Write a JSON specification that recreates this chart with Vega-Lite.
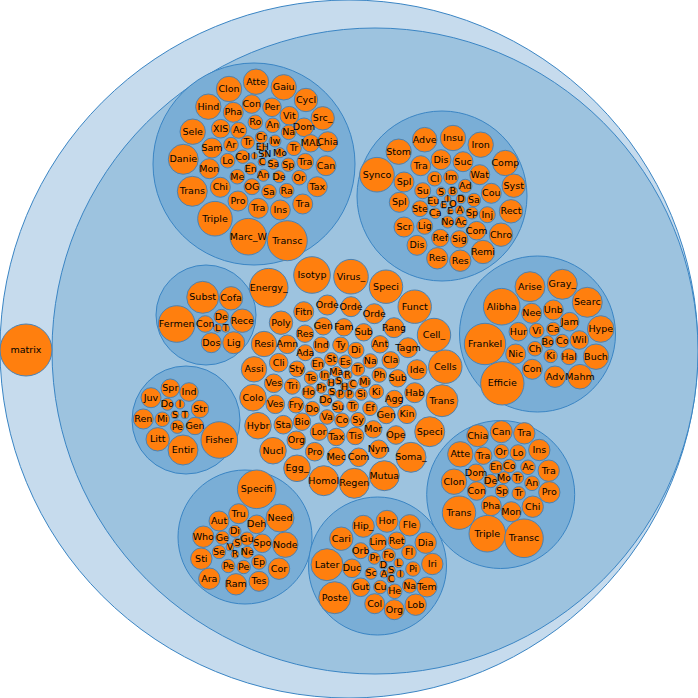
{
  "$schema": "https://vega.github.io/schema/vega-lite/v6.json",
  "width": 698,
  "height": 698,
  "autosize": {"type": "none"},
  "padding": 0,
  "config": {"view": {"stroke": null}},
  "data": {
    "values": [
      {"n": "", "x": 349, "y": 349, "r": 349, "level": "root"},
      {"n": "", "x": 375, "y": 351, "r": 323, "level": "group"},
      {"n": "matrix", "x": 26, "y": 350, "r": 26, "level": "leaf"},
      {"n": "", "x": 254, "y": 164, "r": 101, "level": "cluster"},
      {"n": "", "x": 442, "y": 196, "r": 85, "level": "cluster"},
      {"n": "", "x": 206, "y": 315, "r": 50, "level": "cluster"},
      {"n": "", "x": 186, "y": 420, "r": 54, "level": "cluster"},
      {"n": "", "x": 537.5, "y": 334, "r": 78, "level": "cluster"},
      {"n": "", "x": 500.7, "y": 494.5, "r": 74, "level": "cluster"},
      {"n": "", "x": 245, "y": 537, "r": 67, "level": "cluster"},
      {"n": "", "x": 377.5, "y": 566, "r": 69, "level": "cluster"},

      {"n": "Clon", "x": 229, "y": 89, "r": 12.7, "level": "leaf"},
      {"n": "Atte", "x": 256, "y": 81.7, "r": 12.7, "level": "leaf"},
      {"n": "Gaiu", "x": 283.7, "y": 87.3, "r": 12.7, "level": "leaf"},
      {"n": "Cycl", "x": 306, "y": 100, "r": 11.7, "level": "leaf"},
      {"n": "Src_", "x": 322.7, "y": 118.3, "r": 11.7, "level": "leaf"},
      {"n": "Hind", "x": 208.3, "y": 106.7, "r": 12.7, "level": "leaf"},
      {"n": "Pha", "x": 233.3, "y": 112.3, "r": 10, "level": "leaf"},
      {"n": "Con", "x": 251.7, "y": 104, "r": 9.3, "level": "leaf"},
      {"n": "Per", "x": 272, "y": 107.3, "r": 9.3, "level": "leaf"},
      {"n": "Vit", "x": 289.3, "y": 115.7, "r": 9.3, "level": "leaf"},
      {"n": "Dom", "x": 304, "y": 127.3, "r": 9.3, "level": "leaf"},
      {"n": "Chia", "x": 327.7, "y": 141.7, "r": 10, "level": "leaf"},
      {"n": "MAL", "x": 310.7, "y": 143.3, "r": 8.7, "level": "leaf"},
      {"n": "Sele", "x": 192.7, "y": 131.7, "r": 12.7, "level": "leaf"},
      {"n": "XIS", "x": 220.7, "y": 128.7, "r": 9.3, "level": "leaf"},
      {"n": "Ac", "x": 238.7, "y": 130.3, "r": 8, "level": "leaf"},
      {"n": "Ro", "x": 255.3, "y": 122.3, "r": 7.3, "level": "leaf"},
      {"n": "An", "x": 272.7, "y": 125.3, "r": 7.3, "level": "leaf"},
      {"n": "Na", "x": 288.7, "y": 132.3, "r": 7.3, "level": "leaf"},
      {"n": "Sam", "x": 212, "y": 148, "r": 10, "level": "leaf"},
      {"n": "Ar", "x": 231, "y": 144.7, "r": 7.3, "level": "leaf"},
      {"n": "Tr", "x": 247.7, "y": 142.3, "r": 6.7, "level": "leaf"},
      {"n": "Cr", "x": 261.3, "y": 137.3, "r": 6, "level": "leaf"},
      {"n": "Iw", "x": 275, "y": 141, "r": 6, "level": "leaf"},
      {"n": "Tr", "x": 294, "y": 148.3, "r": 7.3, "level": "leaf"},
      {"n": "Danie", "x": 183.3, "y": 159.3, "r": 15, "level": "leaf"},
      {"n": "Lo", "x": 227.7, "y": 160.7, "r": 7.3, "level": "leaf"},
      {"n": "Col", "x": 242.7, "y": 156.7, "r": 6.7, "level": "leaf"},
      {"n": "EH", "x": 262.3, "y": 147.3, "r": 4, "level": "leaf"},
      {"n": "I", "x": 254.3, "y": 156, "r": 3.3, "level": "leaf"},
      {"n": "SN", "x": 264.7, "y": 154.3, "r": 3.3, "level": "leaf"},
      {"n": "Mo", "x": 280, "y": 152.7, "r": 5, "level": "leaf"},
      {"n": "C", "x": 262, "y": 162, "r": 4, "level": "leaf"},
      {"n": "Sa", "x": 273.3, "y": 164, "r": 5.3, "level": "leaf"},
      {"n": "Sp", "x": 288.3, "y": 164.7, "r": 6.7, "level": "leaf"},
      {"n": "Tra", "x": 305.3, "y": 161.7, "r": 8.3, "level": "leaf"},
      {"n": "Can", "x": 326, "y": 165.7, "r": 10, "level": "leaf"},
      {"n": "Mon", "x": 209.3, "y": 168.7, "r": 10, "level": "leaf"},
      {"n": "En", "x": 250.7, "y": 168.7, "r": 6, "level": "leaf"},
      {"n": "Me", "x": 237.3, "y": 176.7, "r": 7.3, "level": "leaf"},
      {"n": "An", "x": 263.3, "y": 175.3, "r": 6, "level": "leaf"},
      {"n": "De", "x": 279, "y": 176.7, "r": 6, "level": "leaf"},
      {"n": "Or", "x": 299.3, "y": 177.7, "r": 7.3, "level": "leaf"},
      {"n": "Tax", "x": 317.3, "y": 186.7, "r": 10, "level": "leaf"},
      {"n": "Trans", "x": 192.3, "y": 191.3, "r": 15, "level": "leaf"},
      {"n": "Chi", "x": 220.3, "y": 187.3, "r": 10, "level": "leaf"},
      {"n": "OG", "x": 252, "y": 186.7, "r": 8, "level": "leaf"},
      {"n": "Sa", "x": 269, "y": 191.7, "r": 7.3, "level": "leaf"},
      {"n": "Ra", "x": 286.7, "y": 190.7, "r": 7.3, "level": "leaf"},
      {"n": "Pro", "x": 238, "y": 201, "r": 10, "level": "leaf"},
      {"n": "Tra", "x": 258.3, "y": 208.3, "r": 10, "level": "leaf"},
      {"n": "Ins", "x": 280.3, "y": 210, "r": 10, "level": "leaf"},
      {"n": "Tra", "x": 302.7, "y": 204, "r": 10, "level": "leaf"},
      {"n": "Triple", "x": 215, "y": 218.7, "r": 17.3, "level": "leaf"},
      {"n": "Marc_W", "x": 248.3, "y": 236.7, "r": 18.3, "level": "leaf"},
      {"n": "Transc", "x": 287.3, "y": 240.7, "r": 20, "level": "leaf"},

      {"n": "Adve", "x": 424.7, "y": 139.7, "r": 12.3, "level": "leaf"},
      {"n": "Insu", "x": 453, "y": 138, "r": 12.7, "level": "leaf"},
      {"n": "Iron", "x": 480.7, "y": 144.7, "r": 12.7, "level": "leaf"},
      {"n": "Stom", "x": 398.7, "y": 151.7, "r": 12.7, "level": "leaf"},
      {"n": "Dis", "x": 441, "y": 159.7, "r": 10, "level": "leaf"},
      {"n": "Suc", "x": 463, "y": 161.7, "r": 10, "level": "leaf"},
      {"n": "Comp", "x": 505.3, "y": 163, "r": 12.7, "level": "leaf"},
      {"n": "Synco", "x": 377, "y": 174.7, "r": 17.3, "level": "leaf"},
      {"n": "Tra", "x": 420.7, "y": 165.7, "r": 10, "level": "leaf"},
      {"n": "Spl", "x": 404, "y": 182, "r": 10, "level": "leaf"},
      {"n": "Cl", "x": 434.7, "y": 178.7, "r": 7.3, "level": "leaf"},
      {"n": "Im", "x": 451, "y": 177.3, "r": 7.3, "level": "leaf"},
      {"n": "Wat", "x": 479.7, "y": 174.7, "r": 10, "level": "leaf"},
      {"n": "Syst", "x": 513.7, "y": 185.7, "r": 11.7, "level": "leaf"},
      {"n": "Su", "x": 422.7, "y": 190.7, "r": 8, "level": "leaf"},
      {"n": "S", "x": 441, "y": 191.7, "r": 4.7, "level": "leaf"},
      {"n": "B", "x": 452.7, "y": 191.3, "r": 4.7, "level": "leaf"},
      {"n": "Ad", "x": 465.3, "y": 186, "r": 6.7, "level": "leaf"},
      {"n": "Cou", "x": 491.3, "y": 193.3, "r": 10, "level": "leaf"},
      {"n": "Rect", "x": 511, "y": 211.3, "r": 11.7, "level": "leaf"},
      {"n": "Spl", "x": 399.3, "y": 202.3, "r": 10, "level": "leaf"},
      {"n": "Ste", "x": 420, "y": 208.7, "r": 8, "level": "leaf"},
      {"n": "Eu", "x": 433.3, "y": 201.3, "r": 5.3, "level": "leaf"},
      {"n": "I", "x": 447.7, "y": 198.7, "r": 3.3, "level": "leaf"},
      {"n": "D", "x": 461, "y": 199, "r": 4.7, "level": "leaf"},
      {"n": "Sa", "x": 474, "y": 200, "r": 6.7, "level": "leaf"},
      {"n": "E", "x": 443.7, "y": 205.3, "r": 3.3, "level": "leaf"},
      {"n": "O", "x": 453, "y": 203.7, "r": 3.3, "level": "leaf"},
      {"n": "E", "x": 450.3, "y": 211.3, "r": 3.3, "level": "leaf"},
      {"n": "A", "x": 459.7, "y": 210.3, "r": 4.7, "level": "leaf"},
      {"n": "Ca", "x": 435.3, "y": 213.3, "r": 5.3, "level": "leaf"},
      {"n": "Sp", "x": 472, "y": 213, "r": 6, "level": "leaf"},
      {"n": "Inj", "x": 487.3, "y": 214.7, "r": 8, "level": "leaf"},
      {"n": "No", "x": 447.7, "y": 222, "r": 6, "level": "leaf"},
      {"n": "Ac", "x": 461, "y": 222, "r": 6, "level": "leaf"},
      {"n": "Scr", "x": 404, "y": 227, "r": 10, "level": "leaf"},
      {"n": "Lig", "x": 424.7, "y": 226.3, "r": 8, "level": "leaf"},
      {"n": "Com", "x": 476.7, "y": 230.7, "r": 9.3, "level": "leaf"},
      {"n": "Chro", "x": 501, "y": 234.7, "r": 11.7, "level": "leaf"},
      {"n": "Ref", "x": 440.3, "y": 238, "r": 8.7, "level": "leaf"},
      {"n": "Sig", "x": 459.3, "y": 239.3, "r": 8.7, "level": "leaf"},
      {"n": "Dis", "x": 417, "y": 245.3, "r": 10, "level": "leaf"},
      {"n": "Remi", "x": 483, "y": 252, "r": 11.7, "level": "leaf"},
      {"n": "Res", "x": 437.3, "y": 258.3, "r": 10.7, "level": "leaf"},
      {"n": "Res", "x": 460.3, "y": 260.7, "r": 10.7, "level": "leaf"},

      {"n": "Subst", "x": 202.7, "y": 297.3, "r": 16, "level": "leaf"},
      {"n": "Cofa", "x": 231, "y": 298.3, "r": 11.7, "level": "leaf"},
      {"n": "Fermen", "x": 176.7, "y": 324, "r": 18.3, "level": "leaf"},
      {"n": "Con", "x": 205.3, "y": 324, "r": 8.3, "level": "leaf"},
      {"n": "De", "x": 221.3, "y": 316.7, "r": 7.3, "level": "leaf"},
      {"n": "Rece", "x": 242.3, "y": 320.7, "r": 11.7, "level": "leaf"},
      {"n": "L", "x": 217.7, "y": 328.3, "r": 4, "level": "leaf"},
      {"n": "T", "x": 225.7, "y": 328.3, "r": 4, "level": "leaf"},
      {"n": "Dos", "x": 211.3, "y": 342.7, "r": 10, "level": "leaf"},
      {"n": "Lig", "x": 233.7, "y": 342.7, "r": 11, "level": "leaf"},

      {"n": "Juv", "x": 151, "y": 397.7, "r": 10, "level": "leaf"},
      {"n": "Spr", "x": 170.3, "y": 388.3, "r": 9.3, "level": "leaf"},
      {"n": "Ind", "x": 189, "y": 392, "r": 9.3, "level": "leaf"},
      {"n": "Do", "x": 167.3, "y": 404.3, "r": 6, "level": "leaf"},
      {"n": "I", "x": 180, "y": 404.3, "r": 4.7, "level": "leaf"},
      {"n": "Str", "x": 200, "y": 409, "r": 8.7, "level": "leaf"},
      {"n": "Ren", "x": 143.3, "y": 419, "r": 10, "level": "leaf"},
      {"n": "Mi", "x": 162.3, "y": 419.3, "r": 7.3, "level": "leaf"},
      {"n": "S", "x": 175, "y": 414.7, "r": 4, "level": "leaf"},
      {"n": "T", "x": 185, "y": 414.7, "r": 4, "level": "leaf"},
      {"n": "Pe", "x": 177.3, "y": 426.7, "r": 6.7, "level": "leaf"},
      {"n": "Gen", "x": 195, "y": 426, "r": 8.7, "level": "leaf"},
      {"n": "Litt", "x": 157.7, "y": 439.3, "r": 11.7, "level": "leaf"},
      {"n": "Entir", "x": 183, "y": 450, "r": 15, "level": "leaf"},
      {"n": "Fisher", "x": 219.3, "y": 440, "r": 18.3, "level": "leaf"},

      {"n": "Energy_", "x": 268.7, "y": 287.7, "r": 19.3, "level": "leaf"},
      {"n": "Isotyp", "x": 312, "y": 275, "r": 18.3, "level": "leaf"},
      {"n": "Virus_", "x": 351, "y": 276.7, "r": 17.3, "level": "leaf"},
      {"n": "Speci", "x": 386, "y": 286.7, "r": 16.7, "level": "leaf"},
      {"n": "Funct", "x": 414.7, "y": 306.7, "r": 16.7, "level": "leaf"},
      {"n": "Cell_", "x": 434, "y": 335, "r": 16.7, "level": "leaf"},
      {"n": "Cells", "x": 445.3, "y": 366.7, "r": 16.7, "level": "leaf"},
      {"n": "Trans", "x": 442, "y": 400.7, "r": 16, "level": "leaf"},
      {"n": "Speci", "x": 429.7, "y": 431.7, "r": 15, "level": "leaf"},
      {"n": "Soma_", "x": 411, "y": 457.3, "r": 15, "level": "leaf"},
      {"n": "Mutua", "x": 384.3, "y": 475.7, "r": 15, "level": "leaf"},
      {"n": "Regen", "x": 354.3, "y": 483.3, "r": 15, "level": "leaf"},
      {"n": "Homol", "x": 323.7, "y": 480.7, "r": 15, "level": "leaf"},
      {"n": "Egg_", "x": 297, "y": 468.3, "r": 13.3, "level": "leaf"},
      {"n": "Nucl", "x": 273, "y": 450.7, "r": 13.3, "level": "leaf"},
      {"n": "Hybr", "x": 258, "y": 425.7, "r": 13.3, "level": "leaf"},
      {"n": "Colo", "x": 253, "y": 397.7, "r": 13.3, "level": "leaf"},
      {"n": "Assi", "x": 254, "y": 369.3, "r": 12.7, "level": "leaf"},
      {"n": "Resi", "x": 264, "y": 344, "r": 12.7, "level": "leaf"},
      {"n": "Poly", "x": 281, "y": 322.7, "r": 11.7, "level": "leaf"},
      {"n": "Fitn", "x": 303.7, "y": 311.7, "r": 10, "level": "leaf"},
      {"n": "Orde", "x": 327.3, "y": 305, "r": 10, "level": "leaf"},
      {"n": "Orde", "x": 351, "y": 306.7, "r": 10, "level": "leaf"},
      {"n": "Orde", "x": 374.3, "y": 313.7, "r": 10, "level": "leaf"},
      {"n": "Rang", "x": 394, "y": 327.7, "r": 10, "level": "leaf"},
      {"n": "Tagm", "x": 408, "y": 347.7, "r": 10, "level": "leaf"},
      {"n": "Ide", "x": 417, "y": 369.7, "r": 10, "level": "leaf"},
      {"n": "Hab", "x": 414.7, "y": 392.7, "r": 10, "level": "leaf"},
      {"n": "Kin", "x": 407, "y": 414.3, "r": 9.3, "level": "leaf"},
      {"n": "Ope", "x": 396, "y": 435, "r": 9.3, "level": "leaf"},
      {"n": "Nym", "x": 378.7, "y": 449.3, "r": 9.3, "level": "leaf"},
      {"n": "Com", "x": 358.7, "y": 457.3, "r": 9.3, "level": "leaf"},
      {"n": "Mec", "x": 336.3, "y": 456.7, "r": 9.3, "level": "leaf"},
      {"n": "Pro", "x": 314.7, "y": 451.7, "r": 9.3, "level": "leaf"},
      {"n": "Org", "x": 296.3, "y": 440.3, "r": 9.3, "level": "leaf"},
      {"n": "Sta", "x": 283.3, "y": 424.7, "r": 9.3, "level": "leaf"},
      {"n": "Ves", "x": 275.3, "y": 404.3, "r": 9.3, "level": "leaf"},
      {"n": "Ves", "x": 273.7, "y": 383.3, "r": 9.3, "level": "leaf"},
      {"n": "Cli", "x": 278.7, "y": 362.7, "r": 9.3, "level": "leaf"},
      {"n": "Amn", "x": 287.3, "y": 344.3, "r": 9.3, "level": "leaf"},
      {"n": "Res", "x": 305, "y": 333.7, "r": 8.7, "level": "leaf"},
      {"n": "Gen", "x": 323.3, "y": 326.3, "r": 8.7, "level": "leaf"},
      {"n": "Fam", "x": 344, "y": 327.3, "r": 8.7, "level": "leaf"},
      {"n": "Sub", "x": 363.7, "y": 332.3, "r": 8.7, "level": "leaf"},
      {"n": "Ant", "x": 380, "y": 344.3, "r": 8.7, "level": "leaf"},
      {"n": "Cla", "x": 390.7, "y": 360.3, "r": 8.7, "level": "leaf"},
      {"n": "Sub", "x": 397.7, "y": 378.3, "r": 8.7, "level": "leaf"},
      {"n": "Agg", "x": 394.3, "y": 399, "r": 8.7, "level": "leaf"},
      {"n": "Gen", "x": 386.3, "y": 415, "r": 8.7, "level": "leaf"},
      {"n": "Mor", "x": 373.3, "y": 429.3, "r": 8.7, "level": "leaf"},
      {"n": "Tis", "x": 355.3, "y": 436, "r": 8.7, "level": "leaf"},
      {"n": "Tax", "x": 336.3, "y": 437, "r": 8.7, "level": "leaf"},
      {"n": "Lor", "x": 319, "y": 431.7, "r": 8.7, "level": "leaf"},
      {"n": "Bio", "x": 302, "y": 421.7, "r": 8.7, "level": "leaf"},
      {"n": "Fry", "x": 296, "y": 405, "r": 8, "level": "leaf"},
      {"n": "Tri", "x": 292.3, "y": 386.3, "r": 8, "level": "leaf"},
      {"n": "Sty", "x": 297, "y": 369, "r": 8, "level": "leaf"},
      {"n": "Ada", "x": 305.3, "y": 352.7, "r": 8, "level": "leaf"},
      {"n": "Ind", "x": 321.3, "y": 345, "r": 8, "level": "leaf"},
      {"n": "Ty", "x": 340.7, "y": 345, "r": 8, "level": "leaf"},
      {"n": "Di", "x": 356, "y": 350.3, "r": 8, "level": "leaf"},
      {"n": "Na", "x": 370.3, "y": 361, "r": 7.3, "level": "leaf"},
      {"n": "Ph", "x": 379.3, "y": 375, "r": 7.3, "level": "leaf"},
      {"n": "Ki", "x": 376.3, "y": 391.7, "r": 7.3, "level": "leaf"},
      {"n": "Ef", "x": 370, "y": 408.3, "r": 7.3, "level": "leaf"},
      {"n": "Sy", "x": 358, "y": 419.7, "r": 7.3, "level": "leaf"},
      {"n": "Co", "x": 342, "y": 420.3, "r": 7.3, "level": "leaf"},
      {"n": "Va", "x": 327, "y": 417, "r": 7.3, "level": "leaf"},
      {"n": "Do", "x": 312.3, "y": 408.7, "r": 7.3, "level": "leaf"},
      {"n": "Ho", "x": 308.7, "y": 392.3, "r": 6.7, "level": "leaf"},
      {"n": "Te", "x": 311, "y": 377.7, "r": 6.7, "level": "leaf"},
      {"n": "En", "x": 317.7, "y": 364, "r": 6.7, "level": "leaf"},
      {"n": "St", "x": 331.3, "y": 359.3, "r": 6.7, "level": "leaf"},
      {"n": "Es", "x": 345.3, "y": 361.7, "r": 6.7, "level": "leaf"},
      {"n": "Tr", "x": 358, "y": 369.3, "r": 6.7, "level": "leaf"},
      {"n": "Mi", "x": 364.7, "y": 381.7, "r": 6, "level": "leaf"},
      {"n": "Si", "x": 361.3, "y": 394.3, "r": 6, "level": "leaf"},
      {"n": "Tr", "x": 352.7, "y": 406, "r": 6, "level": "leaf"},
      {"n": "Su", "x": 338, "y": 406.7, "r": 6, "level": "leaf"},
      {"n": "Do", "x": 325.7, "y": 400.3, "r": 6, "level": "leaf"},
      {"n": "Pr", "x": 321.3, "y": 388, "r": 5.3, "level": "leaf"},
      {"n": "In", "x": 324.7, "y": 375.3, "r": 5.3, "level": "leaf"},
      {"n": "Ma", "x": 336.3, "y": 371.7, "r": 5.3, "level": "leaf"},
      {"n": "R", "x": 347.3, "y": 375, "r": 4.7, "level": "leaf"},
      {"n": "C", "x": 352.7, "y": 384.3, "r": 4.7, "level": "leaf"},
      {"n": "P", "x": 349.3, "y": 394.3, "r": 4.7, "level": "leaf"},
      {"n": "P", "x": 340.3, "y": 394.3, "r": 4.7, "level": "leaf"},
      {"n": "S", "x": 332, "y": 392, "r": 4, "level": "leaf"},
      {"n": "H", "x": 331, "y": 382.7, "r": 4, "level": "leaf"},
      {"n": "S", "x": 338.7, "y": 381, "r": 4, "level": "leaf"},
      {"n": "H", "x": 344.7, "y": 386.7, "r": 4, "level": "leaf"},

      {"n": "Arise", "x": 530, "y": 286.7, "r": 15, "level": "leaf"},
      {"n": "Gray_", "x": 562.3, "y": 284.3, "r": 15, "level": "leaf"},
      {"n": "Alibha", "x": 501.7, "y": 306.7, "r": 18.3, "level": "leaf"},
      {"n": "Searc", "x": 587.3, "y": 302.3, "r": 15, "level": "leaf"},
      {"n": "Nee", "x": 531.7, "y": 313.3, "r": 10, "level": "leaf"},
      {"n": "Unb", "x": 553.3, "y": 310, "r": 10, "level": "leaf"},
      {"n": "Jam", "x": 569.7, "y": 321.7, "r": 9.3, "level": "leaf"},
      {"n": "Hype", "x": 600.7, "y": 329, "r": 13.3, "level": "leaf"},
      {"n": "Hur", "x": 518.3, "y": 331.7, "r": 9.3, "level": "leaf"},
      {"n": "Vi", "x": 536.7, "y": 330.7, "r": 7.3, "level": "leaf"},
      {"n": "Ca", "x": 553.3, "y": 329, "r": 6.7, "level": "leaf"},
      {"n": "Frankel", "x": 485, "y": 344, "r": 20.7, "level": "leaf"},
      {"n": "Bo", "x": 547.7, "y": 341.7, "r": 6, "level": "leaf"},
      {"n": "Co", "x": 562.3, "y": 341, "r": 6.7, "level": "leaf"},
      {"n": "Wil", "x": 579.3, "y": 340, "r": 9.3, "level": "leaf"},
      {"n": "Ch", "x": 535, "y": 348.7, "r": 7.3, "level": "leaf"},
      {"n": "Nic", "x": 515.7, "y": 354, "r": 10, "level": "leaf"},
      {"n": "Ki", "x": 550.7, "y": 356, "r": 6.7, "level": "leaf"},
      {"n": "Hal", "x": 569, "y": 356.7, "r": 8, "level": "leaf"},
      {"n": "Buch", "x": 596, "y": 356.7, "r": 12.7, "level": "leaf"},
      {"n": "Con", "x": 532.3, "y": 369.3, "r": 10, "level": "leaf"},
      {"n": "Adv", "x": 555, "y": 376.7, "r": 10.7, "level": "leaf"},
      {"n": "Mahm", "x": 580, "y": 376.7, "r": 12.3, "level": "leaf"},
      {"n": "Efficie", "x": 502.3, "y": 383.3, "r": 21.7, "level": "leaf"},

      {"n": "Chia", "x": 477.7, "y": 435.7, "r": 11, "level": "leaf"},
      {"n": "Can", "x": 501.3, "y": 431.7, "r": 11, "level": "leaf"},
      {"n": "Tra", "x": 524.3, "y": 433.3, "r": 10.7, "level": "leaf"},
      {"n": "Atte", "x": 460.3, "y": 454.3, "r": 12.7, "level": "leaf"},
      {"n": "Tra", "x": 483.3, "y": 455.7, "r": 8.7, "level": "leaf"},
      {"n": "Or", "x": 501.3, "y": 451.7, "r": 7.3, "level": "leaf"},
      {"n": "Lo", "x": 518, "y": 452.7, "r": 8, "level": "leaf"},
      {"n": "Ins", "x": 539.3, "y": 450, "r": 10.7, "level": "leaf"},
      {"n": "En", "x": 496, "y": 467.3, "r": 6.7, "level": "leaf"},
      {"n": "Co", "x": 509.3, "y": 466, "r": 6.7, "level": "leaf"},
      {"n": "Ac", "x": 528, "y": 467.3, "r": 7.3, "level": "leaf"},
      {"n": "Tra", "x": 548.7, "y": 470.7, "r": 10.7, "level": "leaf"},
      {"n": "Dom", "x": 476, "y": 472.7, "r": 8.7, "level": "leaf"},
      {"n": "Clon", "x": 454, "y": 481.7, "r": 12.7, "level": "leaf"},
      {"n": "De", "x": 490.7, "y": 481, "r": 6.7, "level": "leaf"},
      {"n": "Mo", "x": 504, "y": 477.7, "r": 6, "level": "leaf"},
      {"n": "Tr", "x": 517.7, "y": 477.7, "r": 6, "level": "leaf"},
      {"n": "An", "x": 532, "y": 483.3, "r": 7.3, "level": "leaf"},
      {"n": "Con", "x": 476.7, "y": 491, "r": 9.3, "level": "leaf"},
      {"n": "Sp", "x": 502, "y": 491, "r": 6.7, "level": "leaf"},
      {"n": "Tr", "x": 518.7, "y": 493.3, "r": 6.7, "level": "leaf"},
      {"n": "Pro", "x": 549.3, "y": 492.3, "r": 10.7, "level": "leaf"},
      {"n": "Pha", "x": 491.3, "y": 505.7, "r": 10, "level": "leaf"},
      {"n": "Mon", "x": 511.3, "y": 511.7, "r": 10, "level": "leaf"},
      {"n": "Chi", "x": 532.7, "y": 506.7, "r": 10.7, "level": "leaf"},
      {"n": "Trans", "x": 459, "y": 512.7, "r": 16.7, "level": "leaf"},
      {"n": "Triple", "x": 487.3, "y": 533.7, "r": 18.3, "level": "leaf"},
      {"n": "Transc", "x": 524, "y": 538.3, "r": 19.3, "level": "leaf"},

      {"n": "Specifi", "x": 256.7, "y": 489.3, "r": 19.3, "level": "leaf"},
      {"n": "Tru", "x": 238.7, "y": 513.7, "r": 10, "level": "leaf"},
      {"n": "Need", "x": 280, "y": 518, "r": 14, "level": "leaf"},
      {"n": "Aut", "x": 219, "y": 521, "r": 10, "level": "leaf"},
      {"n": "Deh", "x": 256.7, "y": 524.3, "r": 9.3, "level": "leaf"},
      {"n": "Di", "x": 235, "y": 531.3, "r": 6, "level": "leaf"},
      {"n": "Who", "x": 203.3, "y": 536.7, "r": 10.7, "level": "leaf"},
      {"n": "Ge", "x": 222.3, "y": 537.7, "r": 6.7, "level": "leaf"},
      {"n": "Gu", "x": 247, "y": 538.7, "r": 6.7, "level": "leaf"},
      {"n": "S", "x": 237.3, "y": 542.7, "r": 4.7, "level": "leaf"},
      {"n": "V", "x": 230, "y": 547, "r": 4, "level": "leaf"},
      {"n": "Spo", "x": 262.3, "y": 543.3, "r": 9.3, "level": "leaf"},
      {"n": "Node", "x": 285.3, "y": 544.7, "r": 12.7, "level": "leaf"},
      {"n": "Se", "x": 219, "y": 552, "r": 6.7, "level": "leaf"},
      {"n": "R", "x": 235, "y": 554.3, "r": 4, "level": "leaf"},
      {"n": "Ne", "x": 247.3, "y": 552.3, "r": 6, "level": "leaf"},
      {"n": "Sti", "x": 201.3, "y": 558.7, "r": 10.7, "level": "leaf"},
      {"n": "Ep", "x": 259, "y": 562, "r": 7.3, "level": "leaf"},
      {"n": "Pe", "x": 228.3, "y": 566, "r": 6.7, "level": "leaf"},
      {"n": "Pe", "x": 243.7, "y": 567, "r": 6.7, "level": "leaf"},
      {"n": "Cor", "x": 279, "y": 568.7, "r": 10.7, "level": "leaf"},
      {"n": "Ara", "x": 209.3, "y": 578.7, "r": 10.7, "level": "leaf"},
      {"n": "Ram", "x": 236, "y": 584.3, "r": 10.7, "level": "leaf"},
      {"n": "Tes", "x": 259, "y": 581.3, "r": 10, "level": "leaf"},

      {"n": "Hip_", "x": 363.3, "y": 526.3, "r": 11, "level": "leaf"},
      {"n": "Hor", "x": 387, "y": 521.3, "r": 11, "level": "leaf"},
      {"n": "Fle", "x": 409.7, "y": 525.3, "r": 10.7, "level": "leaf"},
      {"n": "Cari", "x": 341.3, "y": 538.7, "r": 11.7, "level": "leaf"},
      {"n": "Lim", "x": 378, "y": 542.3, "r": 8.7, "level": "leaf"},
      {"n": "Ret", "x": 396.7, "y": 540.7, "r": 8.7, "level": "leaf"},
      {"n": "Dia", "x": 425.7, "y": 542.7, "r": 10.7, "level": "leaf"},
      {"n": "Orb", "x": 360.7, "y": 550.7, "r": 8, "level": "leaf"},
      {"n": "Fl", "x": 409, "y": 552.3, "r": 7.3, "level": "leaf"},
      {"n": "Later", "x": 327, "y": 564.7, "r": 16, "level": "leaf"},
      {"n": "Fo", "x": 388.7, "y": 555.3, "r": 6.7, "level": "leaf"},
      {"n": "Pr", "x": 374.3, "y": 558.3, "r": 6, "level": "leaf"},
      {"n": "Iri", "x": 432.3, "y": 564, "r": 10.7, "level": "leaf"},
      {"n": "L", "x": 398.7, "y": 563, "r": 4.7, "level": "leaf"},
      {"n": "D", "x": 383.3, "y": 565, "r": 4, "level": "leaf"},
      {"n": "Pi", "x": 413, "y": 569, "r": 7.3, "level": "leaf"},
      {"n": "Duc", "x": 352, "y": 568.3, "r": 9.3, "level": "leaf"},
      {"n": "Sc", "x": 371, "y": 573.3, "r": 6, "level": "leaf"},
      {"n": "A", "x": 384, "y": 574, "r": 4, "level": "leaf"},
      {"n": "S", "x": 391.3, "y": 570.3, "r": 4, "level": "leaf"},
      {"n": "I", "x": 400.3, "y": 574, "r": 4, "level": "leaf"},
      {"n": "C", "x": 391, "y": 579, "r": 4, "level": "leaf"},
      {"n": "Na", "x": 409.7, "y": 585.7, "r": 7.3, "level": "leaf"},
      {"n": "Tem", "x": 427, "y": 587, "r": 10, "level": "leaf"},
      {"n": "Gut", "x": 360.7, "y": 587.3, "r": 9.3, "level": "leaf"},
      {"n": "Cu", "x": 380.3, "y": 587, "r": 6.7, "level": "leaf"},
      {"n": "He", "x": 394.7, "y": 591.3, "r": 7.3, "level": "leaf"},
      {"n": "Poste", "x": 334.7, "y": 597.7, "r": 16, "level": "leaf"},
      {"n": "Col", "x": 374.7, "y": 603.7, "r": 10, "level": "leaf"},
      {"n": "Lob", "x": 415.7, "y": 604.7, "r": 10.7, "level": "leaf"},
      {"n": "Org", "x": 394.3, "y": 609.7, "r": 10, "level": "leaf"}
    ]
  },
  "encoding": {
    "x": {"field": "x", "type": "quantitative", "scale": {"domain": [0, 698], "nice": false, "zero": false}, "axis": null},
    "y": {"field": "y", "type": "quantitative", "scale": {"domain": [0, 698], "nice": false, "zero": false, "reverse": true}, "axis": null}
  },
  "layer": [
    {
      "transform": [{"filter": "datum.level != 'leaf'"}],
      "mark": {"type": "point", "shape": "circle", "filled": true, "opacity": 1, "stroke": "#3a85c4", "strokeWidth": 1},
      "encoding": {
        "size": {"field": "r", "type": "quantitative", "scale": {"type": "pow", "exponent": 2, "domain": [0, 400], "range": [0, 640000]}, "legend": null},
        "fill": {"field": "level", "type": "nominal", "scale": {"domain": ["root", "group", "cluster"], "range": ["#c6dbed", "#9dc3df", "#7aaed6"]}, "legend": null}
      }
    },
    {
      "transform": [{"filter": "datum.level == 'leaf'"}],
      "mark": {"type": "point", "shape": "circle", "filled": true, "opacity": 1, "fill": "#ff7f0e", "stroke": "#4a82b4", "strokeWidth": 1},
      "encoding": {
        "size": {"field": "r", "type": "quantitative", "scale": {"type": "pow", "exponent": 2, "domain": [0, 400], "range": [0, 640000]}, "legend": null}
      }
    },
    {
      "transform": [{"filter": "datum.level == 'leaf'"}],
      "mark": {"type": "text", "font": "DejaVu Sans", "fontSize": 9.5, "color": "#000000", "align": "center", "baseline": "middle"},
      "encoding": {"text": {"field": "n"}}
    }
  ]
}
